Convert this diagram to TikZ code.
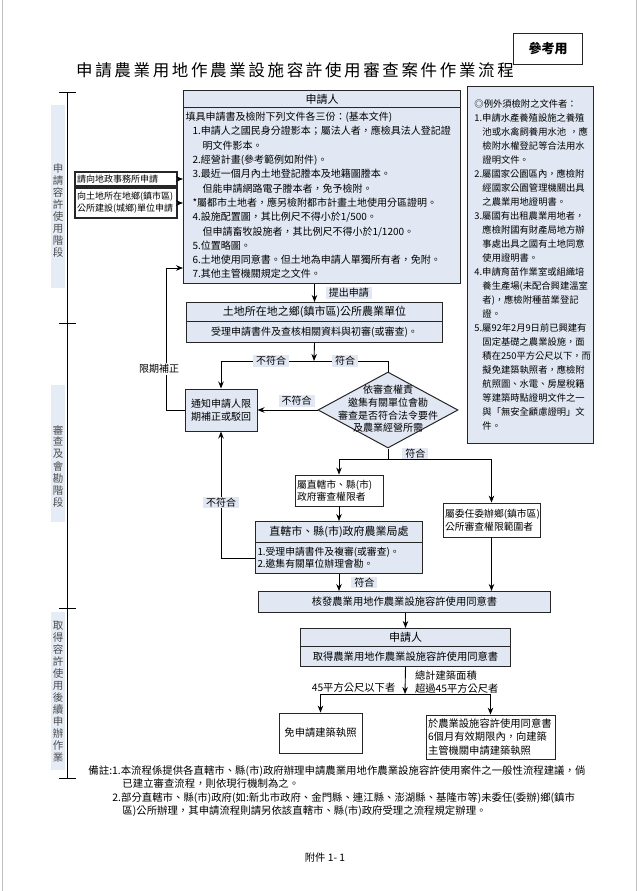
\documentclass[tikz,border=0pt]{standalone}
\usepackage{fontspec}
\setmainfont{Noto Sans CJK TC}
\newfontfamily\titlefont[LetterSpace=16]{Noto Sans CJK TC}
\usepackage{tikz}
\usetikzlibrary{arrows.meta,shapes.geometric}

\definecolor{boxblue}{RGB}{225,232,243}
\definecolor{phaseblue}{RGB}{230,236,245}
\newcommand{\fsz}[2]{\fontsize{#1}{#2}\selectfont}

\tikzset{
	hdrbox/.style={draw=black!85, fill=boxblue, line width=1pt, inner sep=0pt, anchor=north west, font=\fsz{11}{13}},
	bodybox/.style={draw=black!85, fill=boxblue, line width=1pt, inner xsep=2pt, inner ysep=0pt, anchor=north west, align=left, font=\fsz{10}{14.3}},
	plainbox/.style={draw=black!85, fill=white, line width=0.8pt, inner xsep=2pt, inner ysep=1pt, align=left},
	lbl/.style={fill=boxblue, inner xsep=3pt, inner ysep=1pt, font=\fsz{10}{12}},
	phase/.style={align=center, text=black!70, font=\fsz{10.5}{12}, text width=12pt, inner sep=0pt},
}

\begin{document}
\begin{tikzpicture}[x=1pt, y=-1pt, >={Stealth[length=7pt,width=5.5pt]}, line width=0.9pt]
	\useasboundingbox (0,0) rectangle (640,891);
	\draw[black!25, line width=0.6pt] (2,0) -- (2,891) (636,0) -- (636,891);

	% title
	\node[font=\titlefont\fsz{16.5}{18}] (title) at (295,70) {申請農業用地作農業設施容許使用審查案件作業流程};
	\node[draw=black!85, line width=1pt, minimum width=69pt, minimum height=31pt, font=\bfseries\fsz{13}{15}] (refbox) at (548,49) {參考用};

	% phases
	\draw (67,92) -- (67,778);
	\foreach \y in {92,323,608,778}
		\draw (59,\y) -- (76,\y);
	\fill[phaseblue] (51,105) rectangle (65,288);
	\fill[phaseblue] (51,385) rectangle (65,522);
	\fill[phaseblue] (51,612) rectangle (65,770);
	\node[phase] (ph1) at (58,210.5) {申\\請\\容\\許\\使\\用\\階\\段};
	\node[phase] (ph2) at (58,466) {審\\查\\及\\會\\勘\\階\\段};
	\node[phase] (ph3) at (58,692) {取\\得\\容\\許\\使\\用\\後\\續\\申\\辦\\作\\業};

	% applicant
	\node[hdrbox, minimum width=277pt, minimum height=17pt] (apply) at (183,90) {申請人};
	\node[bodybox, text width=273pt, minimum height=176pt] (applyb) at (183,107) {填具申請書及檢附下列文件各三份：(基本文件)\\
		\hspace*{7pt}1.申請人之國民身分證影本；屬法人者，應檢具法人登記證\\
		\hspace*{17pt}明文件影本。\\
		\hspace*{7pt}2.經營計畫(參考範例如附件)。\\
		\hspace*{7pt}3.最近一個月內土地登記謄本及地籍圖謄本。\\
		\hspace*{17pt}但能申請網路電子謄本者，免予檢附。\\
		\hspace*{7pt}*屬都市土地者，應另檢附都市計畫土地使用分區證明。\\
		\hspace*{7pt}4.設施配置圖，其比例尺不得小於1/500。\\
		\hspace*{17pt}但申請畜牧設施者，其比例尺不得小於1/1200。\\
		\hspace*{7pt}5.位置略圖。\\
		\hspace*{7pt}6.土地使用同意書。但土地為申請人單獨所有者，免附。\\
		\hspace*{7pt}7.其他主管機關規定之文件。};
	\node[plainbox, line width=1.1pt, text width=98pt, minimum height=14pt, font=\fsz{9}{11}] (land) at (126,179) {請向地政事務所申請};
	\node[plainbox, line width=1.1pt, text width=98pt, minimum height=30pt, font=\fsz{9}{12}] (town) at (126,203) {向土地所在地鄉(鎮市區)\\公所建設(城鄉)單位申請};

	% exceptions
	\node[bodybox, line width=0.9pt, text width=120pt, inner xsep=3pt, minimum height=357pt, font=\fsz{9.3}{14}] (exc) at (467,86) {%
		\hspace*{4pt}◎例外須檢附之文件者：\\
		\hspace*{4pt}1.申請水產養殖設施之養殖\\
		\hspace*{12pt}池或水禽飼養用水池 ，應\\
		\hspace*{12pt}檢附水權登記等合法用水\\
		\hspace*{12pt}證明文件。\\
		\hspace*{4pt}2.屬國家公園區內，應檢附\\
		\hspace*{12pt}經國家公園管理機關出具\\
		\hspace*{12pt}之農業用地證明書。\\
		\hspace*{4pt}3.屬國有出租農業用地者，\\
		\hspace*{12pt}應檢附國有財產局地方辦\\
		\hspace*{12pt}事處出具之國有土地同意\\
		\hspace*{12pt}使用證明書。\\
		\hspace*{4pt}4.申請育苗作業室或組織培\\
		\hspace*{12pt}養生產場(未配合興建溫室\\
		\hspace*{12pt}者)，應檢附種苗業登記\\
		\hspace*{12pt}證。\\
		\hspace*{4pt}5.屬92年2月9日前已興建有\\
		\hspace*{12pt}固定基礎之農業設施，面\\
		\hspace*{12pt}積在250平方公尺以下，而\\
		\hspace*{12pt}擬免建築執照者，應檢附\\
		\hspace*{12pt}航照圖、水電、房屋稅籍\\
		\hspace*{12pt}等建築時點證明文件之一\\
		\hspace*{12pt}與「無安全顧慮證明」文\\
		\hspace*{12pt}件。};

	% township office
	\node[hdrbox, minimum width=256pt, minimum height=19pt] (office) at (186,302) {土地所在地之鄉(鎮市區)公所農業單位};
	\node[hdrbox, font=\fsz{10}{12}, minimum width=256pt, minimum height=21pt] (officeb) at (186,321) {受理申請書件及查核相關資料與初審(或審查)。};

	% review
	\node[draw=black!85, fill=boxblue, line width=1pt, minimum width=72pt, minimum height=42pt, align=center, font=\fsz{10}{12.5}] (notify) at (221,410) {通知申請人限\\期補正或駁回};
	\node[diamond, draw=black!85, fill=boxblue, line width=1pt, minimum width=140pt, minimum height=76pt, inner sep=0pt] (chk) at (388,410) {};
	\node[align=center, font=\fsz{10}{12.8}] (chktext) at (388,409) {依審查權責\\邀集有關單位會勘\\審查是否符合法令要件\\及農業經營所需};
	\node[plainbox, text width=84pt, minimum height=31pt, font=\fsz{9.8}{12.5}] (city) at (339,490.5) {屬直轄市、縣(市)\\政府審查權限者};
	\node[plainbox, text width=93pt, minimum height=34pt, font=\fsz{9.8}{12.5}] (deleg) at (491.5,520) {屬委任委辦鄉(鎮市區)\\公所審查權限範圍者};
	\node[hdrbox, minimum width=167pt, minimum height=21pt] (ctyhdr) at (255,521) {直轄市、縣(市)政府農業局處};
	\node[bodybox, text width=163pt, minimum height=31pt, font=\fsz{9.8}{11.8}] (ctyb) at (255,542) {1.受理申請書件及複審(或審查)。\\2.邀集有關單位辦理會勘。};

	% permit
	\node[hdrbox, font=\fsz{10.3}{12}, minimum width=292pt, minimum height=21pt] (issue) at (258,591) {核發農業用地作農業設施容許使用同意書};
	\node[hdrbox, minimum width=210pt, minimum height=18pt] (app2) at (300,628) {申請人};
	\node[hdrbox, font=\fsz{10.3}{12}, minimum width=210pt, minimum height=20pt] (app2b) at (300,646) {取得農業用地作農業設施容許使用同意書};
	\node[plainbox, align=center, minimum width=83pt, minimum height=40pt, font=\fsz{10.3}{12}] (free) at (320.5,733) {免申請建築執照};
	\node[plainbox, text width=125pt, minimum height=44pt, font=\fsz{10.3}{13.5}] (permit) at (490.5,737) {於農業設施容許使用同意書\\6個月有效期限內，向建築\\主管機關申請建築執照};

	% connectors
	\draw[->] (land.east) -- (land.east -| applyb.west);
	\draw[->] (town.east) -- (town.east -| applyb.west);
	\draw[->] (office.north |- applyb.south) -- (office.north) node[lbl, midway, right=11pt] {提出申請};

	\coordinate (split1) at (314,361);
	\draw[->] (officeb.south) -- (split1);
	\draw[->] (split1) -| (notify.north) node[lbl, pos=0.23] {不符合};
	\draw (split1) -| (chk.north) node[lbl, pos=0.21] {符合};
	\draw[->] (chk.west) -- (notify.east) node[lbl, pos=0.35, above=3pt] {不符合};

	\coordinate (fixup) at (166,268);
	\draw[->] (notify.west) -| (fixup) -- (fixup -| applyb.west);
	\node[fill=white, inner sep=1pt, font=\fsz{10}{12}] (fixlbl) at (159,369) {限期補正};

	\coordinate (split2) at (388,459);
	\draw (chk.south) -- (split2) node[lbl, midway, right=14pt] {符合};
	\draw[->] (split2) -| (city.north);
	\draw[->] (split2) -| (deleg.north);
	\draw[->] (city.south) -- (city.south |- ctyhdr.north);
	\draw[->] (ctyb.west) -| (notify.south) node[lbl, pos=0.72] {不符合};
	\draw[->] (ctyb.south) -- (ctyb.south |- issue.north) node[lbl, midway, right=12pt] {符合};
	\draw[->] (deleg.south) -- (deleg.south |- issue.north);
	\draw[->] (app2.north |- issue.south) -- (app2.north);

	\coordinate (split3) at (405,694);
	\draw[->] (app2b.south) -- (split3)
		node[pos=0.75, left=6pt, font=\fsz{10.3}{12}] {45平方公尺以下者}
		node[pos=0.55, right=6pt, align=left, font=\fsz{10.3}{13}] {總計建築面積\\超過45平方公尺者};
	\draw[->] (split3) -| (free.north);
	\draw[->] (split3) -| (permit.north);

	% notes
	\node[anchor=north west, align=left, inner sep=0pt, font=\fsz{10.4}{13.5}] (notes) at (88,765) {備註:1.本流程係提供各直轄市、縣(市)政府辦理申請農業用地作農業設施容許使用案件之一般性流程建議，倘\\
		\hspace*{34pt}已建立審查流程，則依現行機制為之。\\
		\hspace*{24pt}2.部分直轄市、縣(市)政府(如:新北市政府、金門縣、連江縣、澎湖縣、基隆市等)未委任(委辦)鄉(鎮市\\
		\hspace*{34pt}區)公所辦理，其申請流程則請另依該直轄市、縣(市)政府受理之流程規定辦理。};
	\node[font=\fsz{10.3}{12}] (footer) at (325,858) {附件 1- 1};
\end{tikzpicture}
\end{document}
